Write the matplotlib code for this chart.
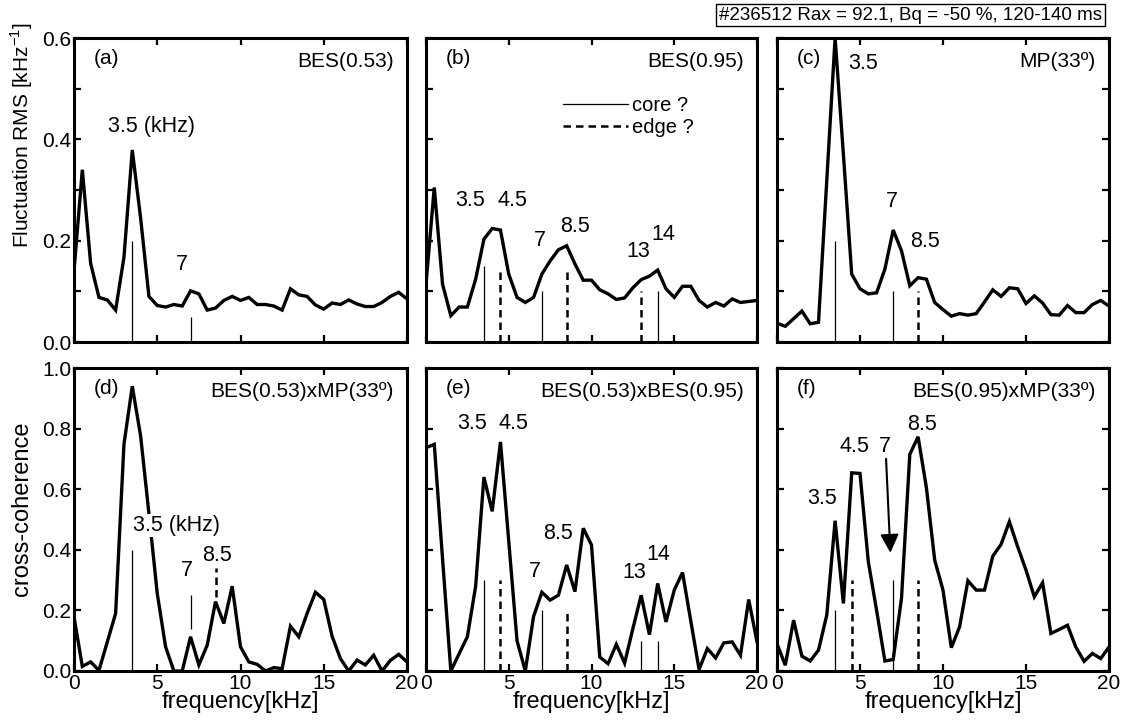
import numpy as np
import matplotlib
matplotlib.use('Agg')
import matplotlib.pyplot as plt
from matplotlib.lines import Line2D

plt.rcParams['font.family'] = ['Liberation Sans', 'DejaVu Sans']

# frequency grid of the spectra (kHz)
freq = np.arange(0, 20.5, 0.5)

# fluctuation RMS spectra (top row)
rms_bes053 = [0.14, 0.34, 0.155, 0.088, 0.083, 0.063, 0.167, 0.379, 0.245, 0.09,
              0.072, 0.069, 0.074, 0.071, 0.101, 0.095, 0.063, 0.067, 0.082, 0.09,
              0.082, 0.088, 0.074, 0.074, 0.071, 0.063, 0.105, 0.093, 0.09, 0.073,
              0.065, 0.077, 0.074, 0.083, 0.075, 0.07, 0.07, 0.078, 0.09, 0.098,
              0.085]
rms_bes095 = [0.114, 0.305, 0.114, 0.052, 0.069, 0.069, 0.124, 0.203, 0.224, 0.221,
              0.134, 0.088, 0.078, 0.088, 0.134, 0.16, 0.182, 0.19, 0.154, 0.122,
              0.122, 0.103, 0.095, 0.084, 0.087, 0.107, 0.123, 0.13, 0.142, 0.105,
              0.088, 0.11, 0.11, 0.082, 0.069, 0.078, 0.071, 0.085, 0.078, 0.08,
              0.082]
rms_mp33 = [0.037, 0.031, 0.046, 0.061, 0.036, 0.039, 0.32, 0.6, 0.37, 0.134,
            0.105, 0.095, 0.097, 0.144, 0.221, 0.18, 0.111, 0.127, 0.124, 0.078,
            0.064, 0.051, 0.056, 0.053, 0.056, 0.079, 0.103, 0.09, 0.107, 0.105,
            0.076, 0.091, 0.077, 0.054, 0.053, 0.072, 0.058, 0.058, 0.074, 0.082,
            0.071]

# cross-coherence spectra (bottom row)
coh_bes053_mp = [0.179, 0.015, 0.03, 0.002, 0.096, 0.19, 0.748, 0.94, 0.776, 0.52,
                 0.256, 0.08, 0.0, 0.0, 0.113, 0.02, 0.085, 0.229, 0.157, 0.28,
                 0.08, 0.03, 0.022, 0.0, 0.011, 0.008, 0.148, 0.113, 0.19, 0.26,
                 0.236, 0.115, 0.041, 0.0, 0.036, 0.02, 0.052, 0.0, 0.035, 0.055,
                 0.03]
coh_bes053_bes095 = [0.737, 0.748, 0.37, 0.0, 0.057, 0.113, 0.28, 0.64, 0.527, 0.756,
                     0.428, 0.1, 0.0, 0.18, 0.26, 0.234, 0.25, 0.35, 0.262, 0.471,
                     0.416, 0.046, 0.024, 0.088, 0.026, 0.14, 0.25, 0.12, 0.289, 0.162,
                     0.267, 0.325, 0.165, 0.005, 0.074, 0.043, 0.093, 0.096, 0.052, 0.236,
                     0.096]
coh_bes095_mp = [0.09, 0.019, 0.168, 0.049, 0.033, 0.069, 0.185, 0.496, 0.223, 0.654,
                 0.652, 0.361, 0.2, 0.033, 0.038, 0.24, 0.715, 0.773, 0.605, 0.366,
                 0.267, 0.077, 0.146, 0.298, 0.267, 0.267, 0.379, 0.418, 0.493, 0.41,
                 0.333, 0.245, 0.291, 0.124, 0.137, 0.151, 0.079, 0.032, 0.058, 0.041,
                 0.079]

# mode markers: frequency, bottom, top  ("core ?" solid, "edge ?" dashed)
core_f = [[3.5, 7], [3.5, 7, 14], [3.5, 7], [3.5, 7], [3.5, 7, 13, 14], [3.5, 7]]
core_lo = [[0, 0], [0, 0, 0], [0, 0], [0, 0.14], [0, 0, 0, 0], [0, 0]]
core_hi = [[0.2, 0.05], [0.15, 0.1, 0.1], [0.2, 0.1], [0.4, 0.25], [0.3, 0.2, 0.1, 0.1], [0.2, 0.3]]
edge_f = [[], [4.5, 8.5, 13], [8.5], [8.5], [4.5, 8.5], [4.5, 8.5]]
edge_lo = [[], [0, 0, 0], [0], [0.245], [0, 0], [0, 0]]
edge_hi = [[], [0.14, 0.14, 0.1], [0.1], [0.34], [0.3, 0.2], [0.3, 0.3]]

letters = ['(a)', '(b)', '(c)', '(d)', '(e)', '(f)']
names = ['BES(0.53)', 'BES(0.95)', 'MP(33º)',
         'BES(0.53)xMP(33º)', 'BES(0.53)xBES(0.95)', 'BES(0.95)xMP(33º)']
series = [rms_bes053, rms_bes095, rms_mp33, coh_bes053_mp, coh_bes053_bes095, coh_bes095_mp]

# peak labels (text, x, y) in data coords
peak_labels = [
    [('3.5 (kHz)', 4.64, 0.425), ('7', 6.47, 0.152)],
    [('3.5', 2.65, 0.28), ('4.5', 5.24, 0.28), ('7', 6.9, 0.2), ('8.5', 8.98, 0.227),
     ('13', 12.85, 0.178), ('14', 14.34, 0.212)],
    [('3.5', 5.2, 0.55), ('7', 6.9, 0.277), ('8.5', 8.9, 0.198)],
    [('3.5 (kHz)', 6.18, 0.48), ('7', 6.77, 0.333), ('8.5', 8.57, 0.38)],
    [('3.5', 2.8, 0.816), ('4.5', 5.3, 0.816), ('7', 6.6, 0.33), ('8.5', 7.95, 0.455),
     ('13', 12.6, 0.325), ('14', 14.05, 0.383)],
    [('3.5', 2.7, 0.57), ('4.5', 4.66, 0.74), ('7', 6.52, 0.74), ('8.5', 8.75, 0.812)],
]

W, H = 1129, 726
fig = plt.figure(figsize=(W / 100, H / 100), dpi=100)

lefts = [74, 426, 777]
rights = [407, 757, 1109]
tops = [38, 368]
bottoms = [342, 671]

axes = []
for i in range(6):
    r, c = divmod(i, 3)
    l, rr, t, b = lefts[c], rights[c], tops[r], bottoms[r]
    ax = fig.add_axes([l / W, 1 - b / H, (rr - l) / W, (b - t) / H])
    axes.append(ax)

    ax.vlines(core_f[i], core_lo[i], core_hi[i], colors='k', lw=0.9)
    if edge_f[i]:
        ax.vlines(edge_f[i], edge_lo[i], edge_hi[i], colors='k', lw=1.8,
                  linestyles=(0, (3, 2)))
    ax.plot(freq, series[i], color='k', lw=2.4, solid_joinstyle='miter')

    ax.set_xlim(0, 20)
    ax.set_xticks([0, 5, 10, 15, 20])
    if r == 0:
        ax.set_ylim(0, 0.6)
        ax.set_yticks(np.arange(0, 0.61, 0.1))
        ax.set_yticklabels(['0.0', '', '0.2', '', '0.4', '', '0.6'])
        ax.tick_params(axis='x', labelbottom=False)
    else:
        ax.set_ylim(0, 1.0)
        ax.set_yticks(np.arange(0, 1.01, 0.2))
        ax.set_yticklabels(['0.0', '0.2', '0.4', '0.6', '0.8', '1.0'])
        ax.set_xlabel('frequency[kHz]', fontsize=17, labelpad=-1)
    if c > 0:
        ax.tick_params(axis='y', labelleft=False)
    ax.tick_params(direction='in', length=5, width=1.6, top=True,
                   right=(c == 2), labelsize=15, pad=2)
    for sp in ax.spines.values():
        sp.set_linewidth(2.2)

    ax.text(0.06, 0.965, letters[i], transform=ax.transAxes, fontsize=15,
            ha='left', va='top')
    ax.text(0.96, 0.955, names[i], transform=ax.transAxes, fontsize=15,
            ha='right', va='top')

    for txt, x, y in peak_labels[i]:
        if i == 3 and txt.startswith('3.5'):
            ax.text(x, y, txt, fontsize=15.5, ha='center', va='center',
                    bbox=dict(fc='white', ec='none', pad=0.5))
        else:
            ax.text(x, y, txt, fontsize=15.5, ha='center', va='center')

# legend of the marker styles in (b)
handles = [Line2D([], [], color='k', lw=0.9),
           Line2D([], [], color='k', lw=1.8, ls=(0, (3, 2)))]
axes[1].legend(handles, ['core ?', 'edge ?'], loc='upper left',
               bbox_to_anchor=(0.415, 0.81), frameon=False, fontsize=14.5,
               handlelength=3.2, handletextpad=0.2, labelspacing=0.15,
               borderpad=0, borderaxespad=0)

# arrow pointing at the 7 kHz peak in (f)
axes[5].annotate('', xy=(6.83, 0.39), xytext=(6.57, 0.70),
                 arrowprops=dict(arrowstyle='-|>', color='k', lw=1.5,
                                 mutation_scale=28, shrinkA=0, shrinkB=0))

fig.text(22 / W, 1 - 135 / H, 'Fluctuation RMS [kHz$^{\\mathregular{-1}}$]',
         rotation=90, ha='center', va='center', fontsize=15)
fig.text(22 / W, 1 - 509 / H, 'cross-coherence', rotation=90,
         ha='center', va='center', fontsize=17)

fig.text(1102 / W, 1 - 15 / H, '#236512 Rax = 92.1, Bq = -50 %, 120-140 ms',
         ha='right', va='center', fontsize=13.5,
         bbox=dict(boxstyle='square,pad=0.15', fc='white', ec='black', lw=1))

fig.savefig('out.png', dpi=100)
